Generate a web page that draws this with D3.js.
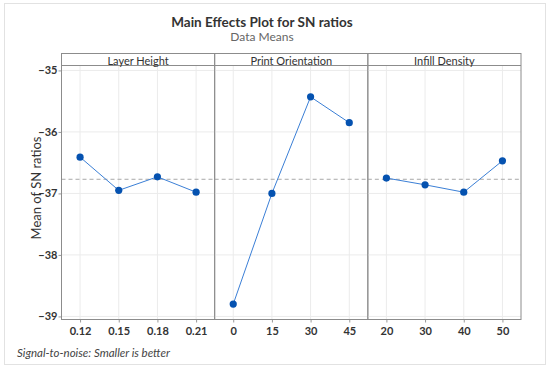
<!DOCTYPE html>
<html>
<head>
<meta charset="utf-8">
<script src="https://cdn.jsdelivr.net/npm/d3@7"></script>
<style>
  body { margin: 0; background: #fff; }
  text { font-family: Lato, "Open Sans", sans-serif; }
</style>
</head>
<body>
<svg id="chart" width="550" height="370"></svg>
<script>
// factor names and levels
var factors = ["Layer Height", "Print Orientation", "Infill Density"];
var layerLevels = ["0.12", "0.15", "0.18", "0.21"];
var orientLevels = ["0", "15", "30", "45"];
var infillLevels = ["20", "30", "40", "50"];

// mean SN ratios
var layerMeans = [-36.41, -36.95, -36.73, -36.98];
var orientMeans = [-38.80, -37.00, -35.43, -35.85];
var infillMeans = [-36.75, -36.86, -36.98, -36.47];

var yTicks = [-35, -36, -37, -38, -39];
var grandMean = -36.77;

var levels = [layerLevels, orientLevels, infillLevels];
var means = [layerMeans, orientMeans, infillMeans];

var svg = d3.select("#chart");

// outer frame
svg.append("rect")
  .attr("x", 4.5).attr("y", 3.5)
  .attr("width", 541).attr("height", 361)
  .style("fill", "#fff")
  .style("stroke", "#e2e2e2");

svg.append("text")
  .attr("x", 262).attr("y", 27)
  .attr("text-anchor", "middle")
  .style("font-size", "13.5px")
  .style("font-weight", "bold")
  .style("fill", "#333")
  .text("Main Effects Plot for SN ratios");

svg.append("text")
  .attr("x", 262).attr("y", 41)
  .attr("text-anchor", "middle")
  .style("font-size", "12px")
  .style("fill", "#666")
  .text("Data Means");

// "top" is taken by window.top, so use other names
var pLeft = 61.5, pRight = 521, pTop = 53.5, stripH = 12, pBottom = 319.5;
var panelW = (pRight - pLeft) / factors.length;

var y = d3.scaleLinear()
  .domain([-34.92, -39.05])
  .range([pTop + stripH, pBottom]);

// y axis
var yAxis = svg.append("g")
  .attr("transform", "translate(" + pLeft + ",0)")
  .call(d3.axisLeft(y).tickValues(yTicks).tickSize(3).tickPadding(1)
    .tickFormat(function(d){ return "\u2212" + Math.abs(d); }));
yAxis.select(".domain").remove();
yAxis.selectAll("line").style("stroke", "#999");
yAxis.selectAll("text")
  .style("font-size", "11px")
  .style("font-weight", "bold")
  .style("fill", "#333")
  .style("font-family", "Lato, sans-serif");

svg.append("text")
  .attr("transform", "translate(41,188) rotate(-90)")
  .attr("text-anchor", "middle")
  .style("font-size", "13px")
  .style("fill", "#333")
  .text("Mean of SN ratios");

factors.forEach(function(f, i) {
  var x0 = pLeft + i * panelW;
  var g = svg.append("g");

  var x = d3.scalePoint()
    .domain(levels[i])
    .range([x0, x0 + panelW])
    .padding(0.48);

  // grid
  g.selectAll(".hg").data(yTicks).enter().append("line")
    .attr("x1", x0).attr("x2", x0 + panelW)
    .attr("y1", function(d){ return y(d); })
    .attr("y2", function(d){ return y(d); })
    .style("stroke", "#ebebeb");
  g.selectAll(".vg").data(levels[i]).enter().append("line")
    .attr("x1", function(d){ return x(d); })
    .attr("x2", function(d){ return x(d); })
    .attr("y1", pTop + stripH).attr("y2", pBottom)
    .style("stroke", "#ebebeb");

  // grand mean reference
  g.append("line")
    .attr("x1", x0).attr("x2", x0 + panelW)
    .attr("y1", y(grandMean)).attr("y2", y(grandMean))
    .style("stroke", "#a8a8a8")
    .style("stroke-dasharray", "4,3");

  // x axis
  var xAxis = g.append("g")
    .attr("transform", "translate(0," + pBottom + ")")
    .call(d3.axisBottom(x).tickSize(3).tickPadding(5));
  xAxis.select(".domain").remove();
  xAxis.selectAll("line").style("stroke", "#999");
  xAxis.selectAll("text")
    .style("font-size", "11px")
    .style("font-weight", "bold")
    .style("fill", "#333")
    .style("font-family", "Lato, sans-serif");

  var pts = levels[i].map(function(d, k){ return {lev: d, val: means[i][k]}; });

  g.append("path")
    .datum(pts)
    .attr("d", d3.line().x(function(d){ return x(d.lev); }).y(function(d){ return y(d.val); }))
    .style("fill", "none")
    .style("stroke", "#3b7fd6")
    .style("stroke-width", 1);

  g.selectAll("circle").data(pts).enter().append("circle")
    .attr("cx", function(d){ return x(d.lev); })
    .attr("cy", function(d){ return y(d.val); })
    .attr("r", 3.6)
    .style("fill", "#0552b0");

  // panel frame and strip
  g.append("rect")
    .attr("x", x0).attr("y", pTop)
    .attr("width", panelW).attr("height", pBottom - pTop)
    .style("fill", "none")
    .style("stroke", "#8c8c8c");
  g.append("line")
    .attr("x1", x0).attr("x2", x0 + panelW)
    .attr("y1", pTop + stripH).attr("y2", pTop + stripH)
    .style("stroke", "#8c8c8c");
  g.append("text")
    .attr("x", x0 + panelW / 2).attr("y", pTop + stripH - 0.5)
    .attr("text-anchor", "middle")
    .style("font-size", "11px")
    .style("fill", "#333")
    .text(f);
});

svg.append("text")
  .attr("x", 17).attr("y", 357)
  .style("font-size", "11.5px")
  .style("font-style", "italic")
  .style("fill", "#444")
  .text("Signal-to-noise: Smaller is better");
</script>
</body>
</html>
